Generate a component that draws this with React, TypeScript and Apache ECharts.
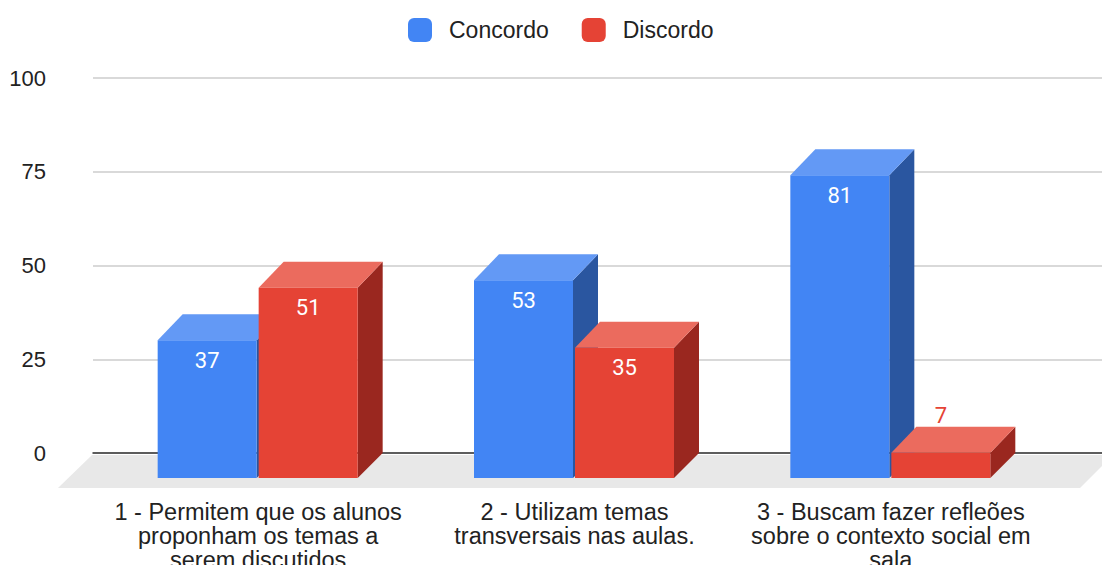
import React, { useEffect, useRef } from "react";
import * as echarts from "echarts";

const categories = [
  "1 - Permitem que os alunos\nproponham os temas a\nserem discutidos",
  "2 - Utilizam temas\ntransversais nas aulas.",
  "3 - Buscam fazer refleões\nsobre o contexto social em\nsala",
];
const seriesNames = ["Concordo", "Discordo"];
const concordo = [37, 53, 81];
const discordo = [51, 35, 7];
const yTicks = [0, 25, 50, 75, 100];

const FONT = "'Liberation Sans', Arial, sans-serif";
const palettes = [
  { front: "#4285F4", top: "#6399F5", side: "#2A56A0", label: "#4285F4" },
  { front: "#E54335", top: "#EB6B5E", side: "#9A271F", label: "#E54335" },
];
const BAR_W = 99;
const DX = 25;
const DY = 26;
const offsets = [-51, 50];

function makeBarRender(si: number) {
  return (params: any, api: any) => {
    const idx = api.value(0);
    const v = api.value(1);
    const top = api.coord([idx, v]);
    const base = api.coord([idx, 0]);
    const p = palettes[si];
    const cx = top[0] + offsets[si];
    const x0 = cx - BAR_W / 2;
    const x1 = cx + BAR_W / 2;
    const backTop = top[1];
    const frontTop = backTop + DY;
    const frontBottom = base[1] + DY - 1;
    const inside = frontBottom - frontTop > 45;
    return {
      type: "group",
      children: [
        {
          type: "polygon",
          shape: {
            points: [
              [x1, frontTop],
              [x1 + DX, backTop],
              [x1 + DX, base[1]],
              [x1, frontBottom],
            ],
          },
          style: { fill: p.side },
        },
        {
          type: "polygon",
          shape: {
            points: [
              [x0, frontTop],
              [x1, frontTop],
              [x1 + DX, backTop],
              [x0 + DX, backTop],
            ],
          },
          style: { fill: p.top },
        },
        {
          type: "rect",
          shape: { x: x0, y: frontTop, width: BAR_W, height: frontBottom - frontTop },
          style: { fill: p.front },
        },
        {
          type: "text",
          style: {
            text: String(v),
            x: cx,
            y: inside ? frontTop + 20 : backTop - 11,
            align: "center",
            verticalAlign: "middle",
            fill: inside ? "#ffffff" : p.label,
            font: "22px Roboto, sans-serif",
          },
        },
      ],
    };
  };
}

export default function App() {
  const ref = useRef<HTMLDivElement>(null);
  useEffect(() => {
    if (!ref.current) return;
    const chart = echarts.init(ref.current, null, { renderer: "svg" });
    chart.setOption({
      animation: false,
      backgroundColor: "#ffffff",
      legend: {
        data: seriesNames,
        left: 408,
        top: 18,
        padding: 0,
        itemWidth: 24,
        itemHeight: 24,
        itemGap: 33,
        icon: "roundRect",
        textStyle: { fontSize: 23, color: "#222222", fontFamily: FONT, padding: [0, 0, 0, 12] },
        selectedMode: false,
      },
      grid: [
        { left: 93, right: 0, top: 78, bottom: 112, outerBoundsMode: "none", containLabel: false },
        { left: 100, right: 53, top: 78, bottom: 112, outerBoundsMode: "none", containLabel: false },
      ],
      xAxis: [
        {
          type: "category",
          gridIndex: 0,
          data: categories,
          axisLine: { show: true, lineStyle: { color: "#333333", width: 1.5 } },
          axisTick: { show: false },
          axisLabel: { show: false },
        },
        {
          type: "category",
          gridIndex: 1,
          data: categories,
          axisLine: { show: false },
          axisTick: { show: false },
          axisLabel: {
            interval: 0,
            margin: 47,
            fontSize: 23.5,
            lineHeight: 24,
            color: "#222222",
            fontFamily: FONT,
            align: "center",
          },
        },
      ],
      yAxis: [
        {
          type: "value",
          gridIndex: 0,
          min: yTicks[0],
          max: yTicks[yTicks.length - 1],
          interval: 25,
          axisLine: { show: false },
          axisTick: { show: false },
          axisLabel: { margin: 47, fontSize: 22, color: "#222222", fontFamily: FONT },
          splitLine: { lineStyle: { color: "#cccccc", width: 1.5 } },
        },
        {
          type: "value",
          gridIndex: 1,
          min: yTicks[0],
          max: yTicks[yTicks.length - 1],
          interval: 25,
          show: false,
        },
      ],
      series: [
        {
          type: "custom",
          name: "floor",
          xAxisIndex: 0,
          yAxisIndex: 0,
          silent: true,
          z: 1,
          data: [[0, 0]],
          renderItem: (params: any) => {
            const cs = params.coordSys;
            const b = cs.y + cs.height;
            return {
              type: "polygon",
              shape: {
                points: [
                  [cs.x - 1, b + 2],
                  [cs.x + cs.width + 11, b + 2],
                  [cs.x + cs.width - 22, b + 35],
                  [cs.x - 35, b + 35],
                ],
              },
              style: { fill: "#E8E8E8" },
            };
          },
        },
        {
          type: "custom",
          name: seriesNames[0],
          xAxisIndex: 1,
          yAxisIndex: 1,
          z: 3,
          itemStyle: { color: palettes[0].front },
          data: concordo.map((v, i) => [i, v]),
          renderItem: makeBarRender(0),
        },
        {
          type: "custom",
          name: seriesNames[1],
          xAxisIndex: 1,
          yAxisIndex: 1,
          z: 3,
          itemStyle: { color: palettes[1].front },
          data: discordo.map((v, i) => [i, v]),
          renderItem: makeBarRender(1),
        },
      ],
    });
    return () => chart.dispose();
  }, []);
  return (
    <div
      ref={ref}
      style={{ position: "fixed", left: 0, top: 0, width: 1102, height: 565 }}
    />
  );
}
